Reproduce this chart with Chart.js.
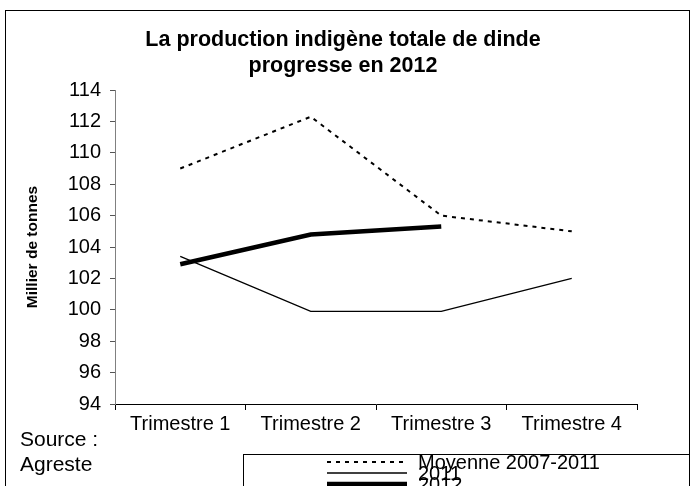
<!DOCTYPE html>
<html>
<head>
<meta charset="utf-8">
<script src="https://cdn.jsdelivr.net/npm/chart.js@4"></script>
<style>
    html, body { margin: 0; padding: 0; background: #fff; }
    #wrap { width: 695px; height: 486px; }
</style>
</head>
<body>
<div id="wrap"><canvas id="chart" width="695" height="486"></canvas></div>
<script>
// Data
const quarters = ['Trimestre 1', 'Trimestre 2', 'Trimestre 3', 'Trimestre 4'];
const moyenne = [109, 112.3, 106, 105];
const prod2011 = [103.4, 99.9, 99.9, 102];
const prod2012 = [102.9, 104.8, 105.3, null];
const seriesLabels = ['Moyenne 2007-2011', '2011', '2012'];
const yMin = 94;
const yMax = 114;
const yStep = 2;
const titleLines = ['La production indigène totale de dinde', 'progresse en 2012'];
const yTitle = 'Millier de tonnes';
const sourceLines = ['Source :', 'Agreste'];

const FONT = '"Liberation Sans", Arial, sans-serif';
Chart.defaults.font.family = FONT;
Chart.defaults.color = '#000';

// Outer frame, source note and the boxed legend under the plot
const framePlugin = {
    id: 'frame',
    beforeDraw(chart) {
        const ctx = chart.ctx;
        ctx.save();
        ctx.fillStyle = '#fff';
        ctx.fillRect(0, 0, chart.width, chart.height);
        ctx.restore();
    },
    afterDraw(chart) {
        const ctx = chart.ctx;
        ctx.save();
        ctx.strokeStyle = '#000';
        ctx.lineWidth = 1;
        ctx.strokeRect(5.5, 10.5, 684, 490);

        ctx.fillStyle = '#000';
        ctx.textAlign = 'left';
        ctx.textBaseline = 'middle';
        ctx.font = '21px ' + FONT;
        sourceLines.forEach((t, i) => ctx.fillText(t, 20, 440 + i * 25));

        ctx.strokeRect(243.5, 454.5, 446, 40);
        ctx.font = '20px ' + FONT;
        chart.data.datasets.forEach((ds, i) => {
            const y = 462 + i * 11;
            ctx.beginPath();
            ctx.setLineDash(ds.borderDash || []);
            ctx.lineWidth = ds.borderWidth;
            ctx.strokeStyle = ds.borderColor;
            ctx.moveTo(327, y);
            ctx.lineTo(407, y);
            ctx.stroke();
            ctx.setLineDash([]);
            ctx.fillText(ds.label, 418, y + 1);
        });
        ctx.restore();
    }
};

const ctx = document.getElementById('chart').getContext('2d');
new Chart(ctx, {
    type: 'line',
    data: {
        labels: quarters,
        datasets: [
            {
                label: seriesLabels[0],
                data: moyenne,
                borderColor: '#000',
                borderWidth: 2,
                borderDash: [4, 5],
                pointRadius: 0,
                order: 2
            },
            {
                label: seriesLabels[1],
                data: prod2011,
                borderColor: '#000',
                borderWidth: 1.3,
                pointRadius: 0,
                order: 1
            },
            {
                label: seriesLabels[2],
                data: prod2012,
                borderColor: '#000',
                borderWidth: 4.5,
                pointRadius: 0,
                spanGaps: false,
                order: 0
            }
        ]
    },
    options: {
        responsive: false,
        animation: false,
        layout: { padding: { top: 10, left: 49, right: 58, bottom: 0 } },
        plugins: {
            legend: { display: false },
            tooltip: { enabled: false },
            title: {
                display: true,
                text: titleLines,
                color: '#000',
                font: { size: 21.5, weight: 'bold', lineHeight: 1.21 },
                padding: { top: 17, bottom: 11 }
            }
        },
        scales: {
            x: {
                offset: true,
                grid: { drawOnChartArea: false, offset: true, tickLength: 6, color: '#000' },
                border: { color: '#000' },
                ticks: { font: { size: 20 }, padding: 2, maxRotation: 0 },
                afterFit: s => { s.height = 82; }
            },
            y: {
                min: yMin,
                max: yMax,
                ticks: { stepSize: yStep, font: { size: 20 }, padding: 9 },
                grid: { drawOnChartArea: false, tickLength: 5, color: '#555' },
                border: { color: '#808080' },
                title: {
                    display: true,
                    text: yTitle,
                    font: { family: '"Liberation Sans Narrow", ' + FONT, size: 15.5, weight: 'bold' },
                    // pull the title left of the axis box so it sits near the frame
                    padding: { top: -26, bottom: 0 }
                },
                afterFit: s => { s.width = 66; }
            }
        }
    },
    plugins: [framePlugin]
});
</script>
</body>
</html>
